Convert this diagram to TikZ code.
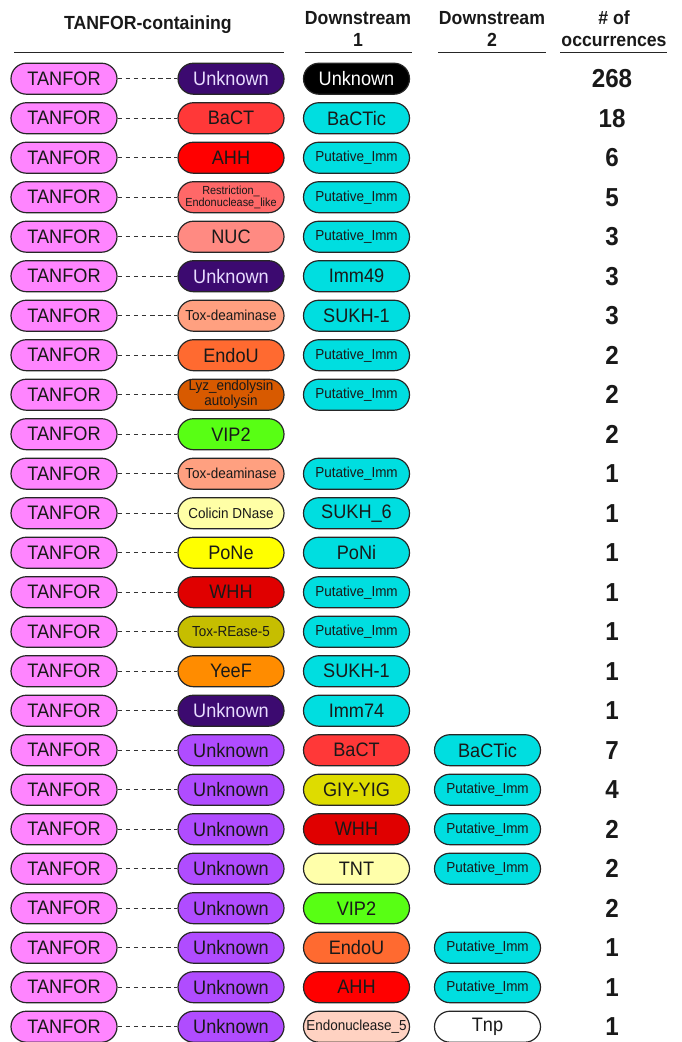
\documentclass[tikz,border=0pt]{standalone}
\usepackage{fontspec}
\setmainfont{Liberation Sans}[FakeStretch=0.93]
\definecolor{tanpink}{HTML}{FF85FF}
\definecolor{unkdark}{HTML}{3C0A70}
\definecolor{unklight}{HTML}{B04CFF}
\definecolor{cyanI}{HTML}{00DEE0}
\definecolor{bactred}{HTML}{FF3838}
\definecolor{ahhred}{HTML}{FF0000}
\definecolor{restr}{HTML}{FF6868}
\definecolor{nuc}{HTML}{FF8A82}
\definecolor{toxdeam}{HTML}{FFA080}
\definecolor{endou}{HTML}{FF6A30}
\definecolor{lyz}{HTML}{D85A00}
\definecolor{vip}{HTML}{58FF14}
\definecolor{colicin}{HTML}{FFFFA6}
\definecolor{pone}{HTML}{FFFF00}
\definecolor{whh}{HTML}{E00000}
\definecolor{toxrease}{HTML}{C6BE00}
\definecolor{yeef}{HTML}{FF8C00}
\definecolor{giy}{HTML}{DEDC00}
\definecolor{tnt}{HTML}{FFFFAA}
\definecolor{endo5}{HTML}{FFD2C2}
\definecolor{unktext}{HTML}{E8DCFF}
\tikzset{
  pill/.style={rectangle, rounded corners=15.5pt, minimum width=106pt, minimum height=31pt,
    inner sep=0pt, draw=black!85, line width=1.2pt, text=black!90, align=center,
    font=\fontsize{19.5}{21}\selectfont},
  smalltxt/.style={font=\fontsize{14.5}{15}\selectfont},
  tinytxt/.style={font=\fontsize{11.7}{11.7}\selectfont},
  unk/.style={fill=unkdark, text=unktext},
  unkl/.style={fill=unklight},
  cy/.style={fill=cyanI},
  pim/.style={fill=cyanI, smalltxt},
  conn/.style={draw=black!80, line width=1.3pt, dash pattern=on 4.5pt off 3.6pt},
  hdr/.style={font=\bfseries\fontsize{19}{22.3}\selectfont, align=center, text=black!90},
  num/.style={font=\bfseries\fontsize{26}{28}\selectfont, text=black!90},
  hrule/.style={line width=1.5pt, draw=black!85}
}
\newcommand\rowA[5]{%
  \node[pill,fill=tanpink] (t#1) at (64,#2) {TANFOR};
  \node[pill,#3] (m#1) at (231,#2) {#4};
  \draw[conn] (t#1.east) -- (m#1.west);
  \node[num] (n#1) at (612,#2) {#5};
}
\newcommand\dA[4]{\node[pill,#3] (d#1) at (356.5,#2) {#4};}
\newcommand\dB[4]{\node[pill,#3] (e#1) at (487.5,#2) {#4};}
\begin{document}
\begin{tikzpicture}[x=1pt,y=-1pt]
\useasboundingbox (0,0) rectangle (681,1042);
% headers
\node[hdr] (h1) at (148,25) {TANFOR-containing};
\node[hdr] (h2) at (358,29) {Downstream\\1};
\node[hdr] (h3) at (492,29) {Downstream\\2};
\node[hdr] (h4) at (614,29) {\# of\\occurrences};
\draw[hrule] (14,52.5) -- (284,52.5);
\draw[hrule] (304.5,52.5) -- (412,52.5);
\draw[hrule] (438,52.5) -- (546,52.5);
\draw[hrule] (560,52.5) -- (667,52.5);
% rows
\rowA{1}{78.7}{unk}{Unknown}{268}
\dA{1}{78.7}{fill=black,text=white}{Unknown}
\rowA{2}{118.2}{fill=bactred}{BaCT}{18}
\dA{2}{118.2}{cy}{BaCTic}
\rowA{3}{157.7}{fill=ahhred}{AHH}{6}
\dA{3}{157.7}{pim}{Putative\_Imm}
\rowA{4}{197.2}{fill=restr,tinytxt}{Restriction\_\\Endonuclease\_like}{5}
\dA{4}{197.2}{pim}{Putative\_Imm}
\rowA{5}{236.7}{fill=nuc}{NUC}{3}
\dA{5}{236.7}{pim}{Putative\_Imm}
\rowA{6}{276.2}{unk}{Unknown}{3}
\dA{6}{276.2}{cy}{Imm49}
\rowA{7}{315.7}{fill=toxdeam,smalltxt}{Tox-deaminase}{3}
\dA{7}{315.7}{cy}{SUKH-1}
\rowA{8}{355.2}{fill=endou}{EndoU}{2}
\dA{8}{355.2}{pim}{Putative\_Imm}
\rowA{9}{394.7}{fill=lyz,smalltxt}{Lyz\_endolysin\\autolysin}{2}
\dA{9}{394.7}{pim}{Putative\_Imm}
\rowA{10}{434.2}{fill=vip}{VIP2}{2}
\rowA{11}{473.7}{fill=toxdeam,smalltxt}{Tox-deaminase}{1}
\dA{11}{473.7}{pim}{Putative\_Imm}
\rowA{12}{513.2}{fill=colicin,smalltxt}{Colicin DNase}{1}
\dA{12}{513.2}{cy}{SUKH\_6}
\rowA{13}{552.7}{fill=pone}{PoNe}{1}
\dA{13}{552.7}{cy}{PoNi}
\rowA{14}{592.2}{fill=whh}{WHH}{1}
\dA{14}{592.2}{pim}{Putative\_Imm}
\rowA{15}{631.7}{fill=toxrease,smalltxt}{Tox-REase-5}{1}
\dA{15}{631.7}{pim}{Putative\_Imm}
\rowA{16}{671.2}{fill=yeef}{YeeF}{1}
\dA{16}{671.2}{cy}{SUKH-1}
\rowA{17}{710.7}{unk}{Unknown}{1}
\dA{17}{710.7}{cy}{Imm74}
\rowA{18}{750.2}{unkl}{Unknown}{7}
\dA{18}{750.2}{fill=bactred}{BaCT}
\dB{18}{750.2}{cy}{BaCTic}
\rowA{19}{789.7}{unkl}{Unknown}{4}
\dA{19}{789.7}{fill=giy}{GIY-YIG}
\dB{19}{789.7}{pim}{Putative\_Imm}
\rowA{20}{829.2}{unkl}{Unknown}{2}
\dA{20}{829.2}{fill=whh}{WHH}
\dB{20}{829.2}{pim}{Putative\_Imm}
\rowA{21}{868.7}{unkl}{Unknown}{2}
\dA{21}{868.7}{fill=tnt}{TNT}
\dB{21}{868.7}{pim}{Putative\_Imm}
\rowA{22}{908.2}{unkl}{Unknown}{2}
\dA{22}{908.2}{fill=vip}{VIP2}
\rowA{23}{947.7}{unkl}{Unknown}{1}
\dA{23}{947.7}{fill=endou}{EndoU}
\dB{23}{947.7}{pim}{Putative\_Imm}
\rowA{24}{987.2}{unkl}{Unknown}{1}
\dA{24}{987.2}{fill=ahhred}{AHH}
\dB{24}{987.2}{pim}{Putative\_Imm}
\rowA{25}{1026.7}{unkl}{Unknown}{1}
\dA{25}{1026.7}{fill=endo5,smalltxt}{Endonuclease\_5}
\dB{25}{1026.7}{fill=white}{Tnp}
\end{tikzpicture}
\end{document}
